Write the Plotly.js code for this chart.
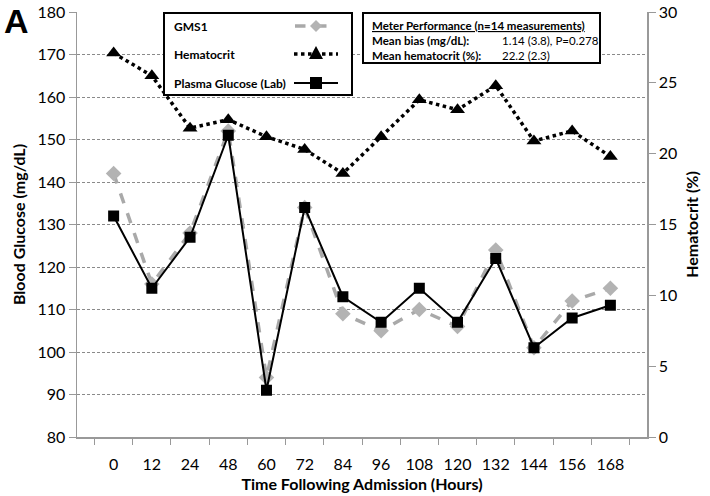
<!DOCTYPE html>
<html>
<head>
<meta charset="utf-8">
<script src="https://cdn.plot.ly/plotly-3.0.1.min.js"></script>
<style>html,body{margin:0;padding:0;background:#fff;}#chart{width:710px;height:496px;}</style>
</head>
<body>
<div id="chart"></div>
<script>
const hours = ["0","12","24","48","60","72","84","96","108","120","132","144","156","168"];
const gms1 = [142,116,128,152,94,134,109,105,110,106,124,101,112,115];
const hematocrit = [27.1,25.5,21.8,22.4,21.2,20.3,18.6,21.2,23.8,23.1,24.8,20.9,21.6,19.8];
const plasmaLab = [132,115,127,151,91,134,113,107,115,107,122,101,108,111];
const leftTicks = [80,90,100,110,120,130,140,150,160,170,180];
const rightTicks = [0,5,10,15,20,25,30];

const FONT = "Lato, 'Open Sans', sans-serif";
const L = 77, R = 647, T = 12, B = 437;
const px = x => (x - L) / (R - L);
const py = y => (B - y) / (B - T);

const traces = [
  {x: hours, y: gms1, name: "GMS1", type: "scatter", mode: "lines+markers",
   line: {color: "#a9a9a9", width: 3.5, dash: "dash"},
   marker: {symbol: "diamond", size: 12, color: "#b3b3b3"}},
  {x: hours, y: hematocrit, name: "Hematocrit", type: "scatter", mode: "lines+markers", yaxis: "y2",
   line: {color: "#000", width: 3.5, dash: "dot"},
   marker: {symbol: "triangle-up", size: 13, color: "#000"}},
  {x: hours, y: plasmaLab, name: "Plasma Glucose (Lab)", type: "scatter", mode: "lines+markers",
   line: {color: "#000", width: 2},
   marker: {symbol: "square", size: 11, color: "#000"}}
];

const shapes = [];
const annotations = [];
// legend box
shapes.push({type: "rect", xref: "paper", yref: "paper", x0: px(164), x1: px(352), y0: py(95), y1: py(13),
  line: {color: "#000", width: 2}, fillcolor: "#fff", layer: "above"});
const rows = [26, 54, 83];
const names = ["GMS1", "Hematocrit", "Plasma Glucose (Lab)"];
names.forEach((n, i) => {
  annotations.push({xref: "paper", yref: "paper", x: px(172), y: py(rows[i]), xanchor: "left", yanchor: "middle",
    text: "<b>" + n + "</b>", showarrow: false, font: {family: FONT, size: 12, color: "#000"}});
});
// legend samples
shapes.push({type: "line", xref: "paper", yref: "paper", x0: px(295), x1: px(336), y0: py(rows[0]), y1: py(rows[0]),
  line: {color: "#a9a9a9", width: 3.5, dash: "dash"}, layer: "above"});
shapes.push({type: "line", xref: "paper", yref: "paper", x0: px(294), x1: px(338), y0: py(rows[1]), y1: py(rows[1]),
  line: {color: "#000", width: 3.5, dash: "dot"}, layer: "above"});
shapes.push({type: "line", xref: "paper", yref: "paper", x0: px(294), x1: px(338), y0: py(rows[2]), y1: py(rows[2]),
  line: {color: "#000", width: 2}, layer: "above"});
const cx = 316;
const pathPx = pts => "M" + pts.map(p => px(p[0]) + "," + py(p[1])).join(" L") + " Z";
shapes.push({type: "path", xref: "paper", yref: "paper", path: pathPx([[cx, rows[0]-6],[cx+6, rows[0]],[cx, rows[0]+6],[cx-6, rows[0]]]),
  fillcolor: "#b3b3b3", line: {width: 0}, layer: "above"});
shapes.push({type: "path", xref: "paper", yref: "paper", path: pathPx([[cx, rows[1]-8],[cx+7, rows[1]+5],[cx-7, rows[1]+5]]),
  fillcolor: "#000", line: {width: 0}, layer: "above"});
shapes.push({type: "rect", xref: "paper", yref: "paper", x0: px(cx-6), x1: px(cx+6), y0: py(rows[2]+6), y1: py(rows[2]-6),
  fillcolor: "#000", line: {width: 0}, layer: "above"});

// stats box
shapes.push({type: "rect", xref: "paper", yref: "paper", x0: px(363), x1: px(600), y0: py(63), y1: py(13),
  line: {color: "#000", width: 2}, fillcolor: "#fff", layer: "above"});
annotations.push({xref: "paper", yref: "paper", x: px(370), y: py(17), xanchor: "left", yanchor: "top", align: "left",
  text: "<b><u>Meter Performance (n=14 measurements)</u></b><br><b>Mean bias (mg/dL):</b><br><b>Mean hematocrit (%):</b>",
  showarrow: false, font: {family: FONT, size: 11.5, color: "#000"}});
annotations.push({xref: "paper", yref: "paper", x: px(500), y: py(32), xanchor: "left", yanchor: "top", align: "left",
  text: "1.14 (3.8), P=0.278<br>22.2 (2.3)",
  showarrow: false, font: {family: FONT, size: 11.5, color: "#000"}});
// panel label
annotations.push({xref: "paper", yref: "paper", x: px(2), y: py(0), xanchor: "left", yanchor: "top",
  text: "<b>A</b>", showarrow: false, font: {family: "Liberation Sans, Arial, sans-serif", size: 34, color: "#000"}});

const layout = {
  width: 710, height: 496,
  margin: {l: L, r: 710 - R, t: T, b: 496 - B},
  paper_bgcolor: "#fff", plot_bgcolor: "#fff",
  showlegend: false,
  font: {family: FONT, size: 16, color: "#000"},
  xaxis: {type: "category", categoryorder: "array", categoryarray: hours,
    tickson: "boundaries", ticks: "outside", ticklen: 6, tickcolor: "#999", tickwidth: 1,
    ticklabelstandoff: 12,
    showline: true, linecolor: "#999", linewidth: 1.5, showgrid: false, zeroline: false,
    tickfont: {family: FONT, size: 16},
    title: {text: "<b>Time Following Admission (Hours)</b>", font: {family: FONT, size: 16}, standoff: 7}},
  yaxis: {range: [80, 180], tickvals: leftTicks, ticks: "outside", ticklen: 7, tickcolor: "#999",
    showline: true, linecolor: "#999", linewidth: 1.5, zeroline: false,
    showgrid: true, gridcolor: "#8a8a8a", griddash: "3px,2px", gridwidth: 1,
    tickfont: {family: FONT, size: 16},
    title: {text: "<b>Blood Glucose (mg/dL)</b>", font: {family: FONT, size: 16}, standoff: 8}},
  yaxis2: {range: [0, 30], tickvals: rightTicks, overlaying: "y", side: "right", ticks: "outside", ticklen: 7,
    tickcolor: "#999", showline: true, linecolor: "#999", linewidth: 1.5, showgrid: false, zeroline: false,
    tickfont: {family: FONT, size: 16},
    title: {text: "<b>Hematocrit (%)</b>", font: {family: FONT, size: 16}, standoff: 10}},
  shapes: shapes,
  annotations: annotations
};

Plotly.newPlot("chart", traces, layout, {displayModeBar: false, staticPlot: true});
</script>
</body>
</html>
